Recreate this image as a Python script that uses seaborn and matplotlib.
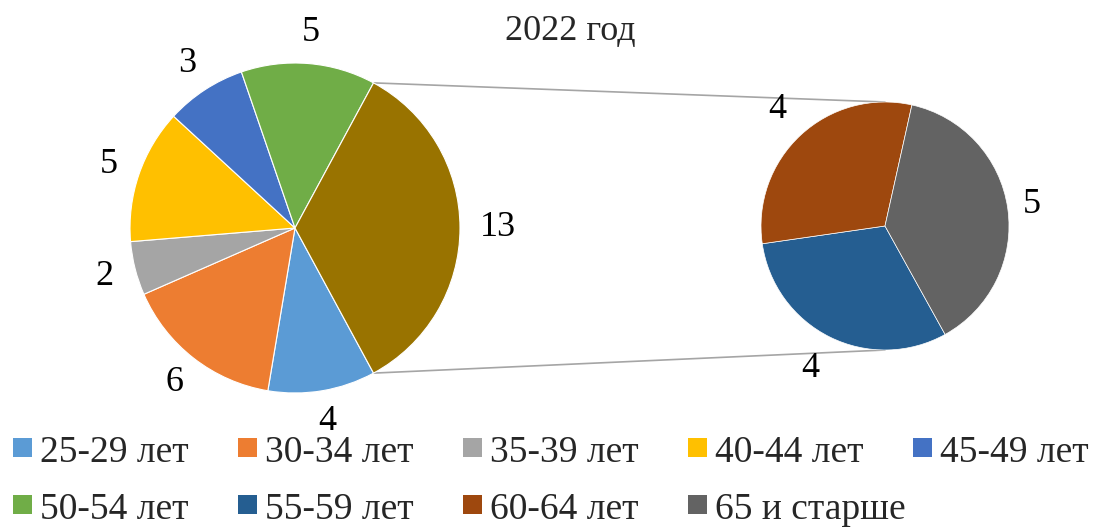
import numpy as np
import matplotlib
matplotlib.use("Agg")
import matplotlib.pyplot as plt
import seaborn as sns
from matplotlib.patches import Rectangle

# =============================================================================
# Données
# =============================================================================
title = "2022 год"
main_labels = ["25-29 лет", "30-34 лет", "35-39 лет", "40-44 лет", "45-49 лет", "50-54 лет"]
main_values = [4, 6, 2, 5, 3, 5]
sub_labels = ["55-59 лет", "60-64 лет", "65 и старше"]
sub_values = [4, 4, 5]

main_colors = ["#5B9BD5", "#ED7D31", "#A5A5A5", "#FFC000", "#4472C4", "#70AD47"]
sub_colors = ["#255E91", "#9E480E", "#636363"]
other_color = "#997300"

# =============================================================================
# Style
# =============================================================================
sns.set_style("white")
plt.rcParams["font.family"] = ["Liberation Serif", "DejaVu Serif"]
FS = 26

W, H = 1105, 528
fig = plt.figure(figsize=(W / 100, H / 100), dpi=100)
ax = fig.add_axes([0, 0, 1, 1])
ax.set_xlim(0, W)
ax.set_ylim(0, H)
ax.set_aspect("equal")
ax.axis("off")

# pie principal (avec la part "autres" à droite)
other_total = sum(sub_values)
vals = main_values + [other_total]
total = sum(vals)
other_angle = other_total / total * 360
start = -other_angle / 2

c1, r1 = (295, H - 228), 165
wedges, _, autotexts = ax.pie(
    vals, colors=main_colors + [other_color], center=c1, radius=r1,
    startangle=start, counterclock=False,
    autopct=lambda p: f"{p * total / 100:.0f}", pctdistance=1.19,
    wedgeprops={"edgecolor": "white", "linewidth": 0.8},
    textprops={"fontsize": FS, "color": "black"},
)
autotexts[-1].set_position((c1[0] + r1 * 1.23, c1[1]))

# pie secondaire
c2, r2 = (885, H - 226), 124
sub_total = sum(sub_values)
w2, _, at2 = ax.pie(
    sub_values, colors=sub_colors, center=c2, radius=r2,
    startangle=-61, counterclock=False,
    autopct=lambda p: f"{p * sub_total / 100:.0f}", pctdistance=1.28,
    wedgeprops={"edgecolor": "white", "linewidth": 0.5},
    textprops={"fontsize": FS, "color": "black"},
)
# le "5" est plus proche du disque
th = np.deg2rad((w2[2].theta1 + w2[2].theta2) / 2)
at2[2].set_position((c2[0] + r2 * 1.2 * np.cos(th), c2[1] + r2 * 1.2 * np.sin(th)))
at2[0].set_position((at2[0].get_position()[0] - 4, at2[0].get_position()[1]))

# lignes de liaison
a = np.deg2rad(other_angle / 2)
for sgn in (1, -1):
    ax.plot([c1[0] + r1 * np.cos(a), c2[0]],
            [c1[1] + sgn * r1 * np.sin(a), c2[1] + sgn * r2],
            color="#A5A5A5", linewidth=1.2, zorder=0)

ax.set_xlim(0, W)
ax.set_ylim(0, H)

# titre
ax.text(570, H - 40, title, ha="center", va="baseline", fontsize=FS)

# légende
for i, (lab, col) in enumerate(zip(main_labels + sub_labels, main_colors + sub_colors)):
    cx = 13 + (i % 5) * 225
    base = 462 + (i // 5) * 57
    ax.add_patch(Rectangle((cx, H - base + 5), 19, 19, color=col, linewidth=0))
    ax.text(cx + 27, H - base, lab, ha="left", va="baseline", fontsize=27)

plt.savefig("out.png", dpi=100)
